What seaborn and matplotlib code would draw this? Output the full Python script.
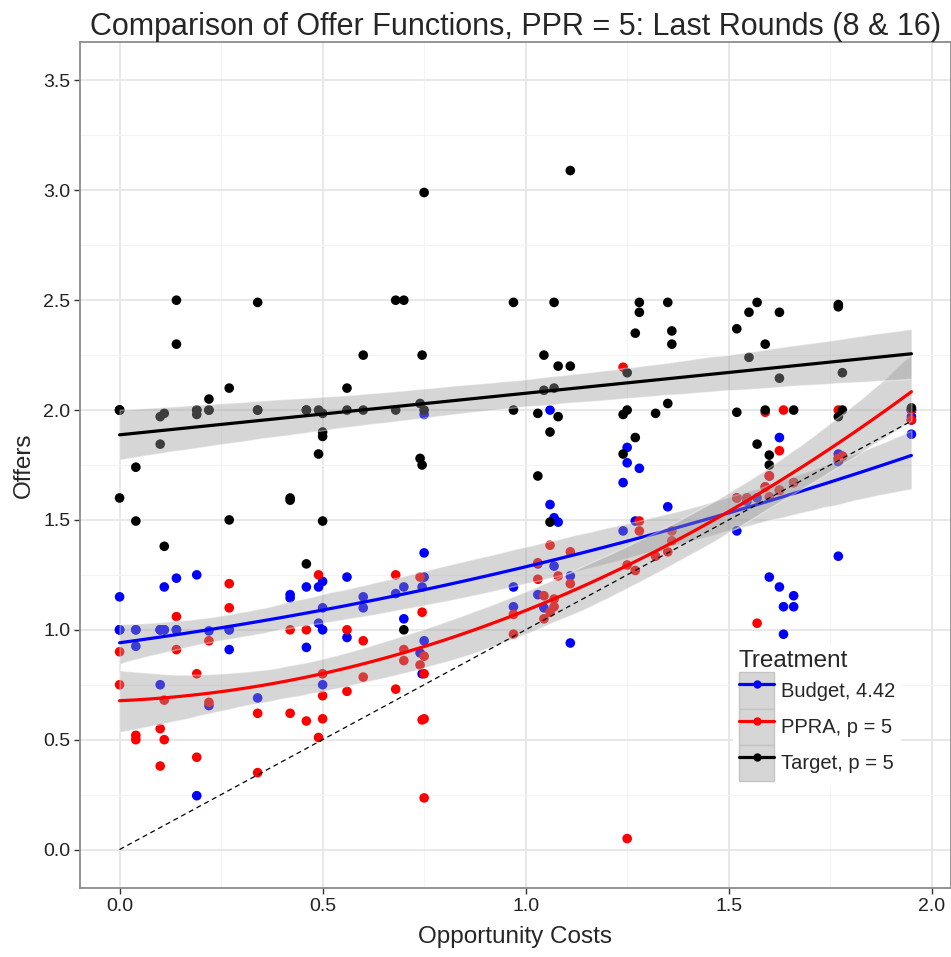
import numpy as np
import pandas as pd
import matplotlib
matplotlib.use("Agg")
import matplotlib.pyplot as plt
import seaborn as sns
from matplotlib.lines import Line2D
from matplotlib.patches import Patch
from matplotlib.legend_handler import HandlerTuple
from matplotlib.ticker import MultipleLocator, FormatStrFormatter

# treatments and colours
treatments = ["Budget, 4.42", "PPRA, p = 5", "Target, p = 5"]
colors = ["#0000ff", "#ff0000", "#000000"]
fit_order = [2, 2, 1]

# Budget, 4.42 (last block: stacked / hidden points)
budget_cost = [0.00, 0.00, 0.04, 0.04, 0.10, 0.11, 0.11, 0.14, 0.14, 0.19, 0.10, 0.22, 0.22, 0.19,
               0.27, 0.27, 0.34, 0.42, 0.42, 0.46, 0.46, 0.49, 0.50, 0.50, 0.49, 0.50, 0.50, 0.56,
               0.56, 0.60, 0.60, 0.68, 0.70, 0.70, 0.75, 0.75, 0.745, 0.75, 0.74, 0.745, 0.75,
               1.06, 1.25, 1.25, 1.28, 1.24, 1.625, 1.57, 1.545, 1.35, 1.06, 1.07, 1.08, 1.52, 1.24,
               1.27, 1.03, 1.07, 1.11, 0.97, 0.97, 1.03, 1.045, 1.11, 1.77, 1.60, 1.625, 1.66, 1.635,
               1.66, 1.635, 1.77, 1.77, 1.95,
               1.52, 1.545, 1.59, 1.60, 1.625, 1.66, 1.78, 1.95, 1.95, 1.95, 1.95, 1.77,
               0.00, 0.04, 0.10, 0.14, 0.27, 0.00, 0.10, 0.11]
budget_offer = [1.15, 1.00, 1.00, 0.925, 1.00, 1.00, 1.195, 1.235, 1.00, 1.25, 0.75, 0.995, 0.655, 0.245,
                1.00, 0.91, 0.69, 1.16, 1.145, 1.195, 0.92, 1.195, 1.22, 1.10, 1.03, 1.00, 0.75, 1.24,
                0.965, 1.15, 1.10, 1.165, 1.195, 1.05, 1.35, 1.24, 1.195, 0.95, 0.895, 0.80, 1.98,
                2.00, 1.83, 1.76, 1.735, 1.67, 1.875, 1.60, 1.585, 1.56, 1.57, 1.51, 1.49, 1.45, 1.45,
                1.495, 1.30, 1.29, 1.245, 1.195, 1.105, 1.16, 1.10, 0.94, 1.335, 1.24, 1.195, 1.155, 1.105,
                1.105, 0.98, 1.80, 1.765, 1.89,
                1.60, 1.60, 1.65, 1.70, 1.635, 1.67, 1.79, 2.00, 1.955, 1.97, 2.00, 1.78,
                1.00, 1.00, 1.00, 1.00, 1.00, 1.00, 1.00, 1.00]

# PPRA, p = 5
ppra_cost = [0.00, 0.00, 0.04, 0.04, 0.10, 0.11, 0.10, 0.14, 0.14, 0.11, 0.19, 0.19, 0.22, 0.22,
             0.27, 0.27, 0.34, 0.34, 0.42, 0.42, 0.46, 0.46, 0.49, 0.49, 0.50, 0.50, 0.50, 0.56,
             0.56, 0.60, 0.60, 0.68, 0.68, 0.70, 0.70, 0.74, 0.745, 0.74, 0.75, 0.75, 0.745, 0.75,
             0.75,
             1.24, 1.59, 1.635, 1.77, 1.95, 1.95, 1.625, 1.60, 1.59, 1.66, 1.52, 1.545, 1.60, 1.625,
             1.77, 1.78, 1.28, 1.28, 1.36, 1.36, 1.06, 1.11, 1.03, 1.03, 1.08, 1.11, 1.045, 1.07,
             1.07, 1.06, 1.045, 0.97, 0.97, 1.25, 1.27, 1.32, 1.35, 1.25, 1.57]
ppra_offer = [0.90, 0.75, 0.52, 0.50, 0.55, 0.50, 0.38, 1.06, 0.91, 0.68, 0.80, 0.42, 0.95, 0.67,
              1.21, 1.10, 0.62, 0.35, 1.00, 0.62, 1.00, 0.585, 1.25, 0.51, 0.80, 0.70, 0.595, 1.00,
              0.72, 0.95, 0.785, 1.25, 0.73, 0.91, 0.86, 1.24, 1.08, 0.84, 0.80, 0.88, 0.59, 0.595,
              0.235,
              2.195, 1.99, 2.00, 2.00, 2.00, 1.955, 1.815, 1.70, 1.65, 1.67, 1.60, 1.60, 1.605, 1.635,
              1.78, 1.79, 1.495, 1.45, 1.45, 1.405, 1.385, 1.355, 1.305, 1.23, 1.245, 1.21, 1.155, 1.14,
              1.105, 1.08, 1.05, 1.07, 0.98, 1.295, 1.27, 1.335, 1.355, 0.05, 1.03]

# Target, p = 5 (last block: stacked 2.0 offers)
target_cost = [0.75, 0.14, 0.34, 0.68, 0.70, 0.14, 0.60, 0.745, 0.27, 0.56, 0.22, 0.00, 0.10, 0.11,
               0.19, 0.19, 0.22, 0.34, 0.46, 0.49, 0.50, 0.50, 0.50, 0.56, 0.60, 0.68, 0.74, 0.75,
               0.10, 0.49, 0.74, 0.745, 0.04, 0.00, 0.42, 0.42, 0.04, 0.27, 0.50, 0.11, 0.46, 0.70,
               1.11, 0.97, 1.07, 1.28, 1.28, 1.35, 1.27, 1.36, 1.36, 1.57, 1.55, 1.625, 1.52, 1.59,
               1.55, 1.77, 1.77, 1.045, 1.08, 1.11, 1.045, 1.07, 0.97, 1.03, 1.08, 1.06, 1.03, 1.06,
               1.25, 1.24, 1.25, 1.32, 1.35, 1.27, 1.24, 1.52, 1.59, 1.66, 1.625, 1.57, 1.60, 1.60,
               1.78, 1.78, 1.77, 1.95,
               0.00, 0.00, 0.19, 0.22, 0.34, 0.46]
target_offer = [2.99, 2.50, 2.49, 2.50, 2.50, 2.30, 2.25, 2.25, 2.10, 2.10, 2.05, 2.00, 1.97, 1.985,
                2.00, 1.98, 2.00, 2.00, 2.00, 2.00, 1.985, 1.90, 1.88, 2.00, 2.00, 2.00, 2.03, 2.00,
                1.845, 1.80, 1.78, 1.75, 1.74, 1.60, 1.60, 1.59, 1.495, 1.50, 1.495, 1.38, 1.30, 1.00,
                3.09, 2.49, 2.49, 2.49, 2.445, 2.49, 2.35, 2.36, 2.30, 2.49, 2.445, 2.445, 2.37, 2.30,
                2.24, 2.48, 2.47, 2.25, 2.20, 2.20, 2.09, 2.10, 2.00, 1.985, 1.97, 1.90, 1.70, 1.49,
                2.17, 1.98, 2.00, 1.985, 2.03, 1.875, 1.80, 1.99, 2.00, 2.00, 2.145, 1.845, 1.795, 1.75,
                2.17, 2.00, 1.97, 2.01,
                2.00, 2.00, 2.00, 2.00, 2.00, 2.00]

df = pd.concat([
    pd.DataFrame({"cost": budget_cost, "offer": budget_offer, "treatment": treatments[0]}),
    pd.DataFrame({"cost": ppra_cost, "offer": ppra_offer, "treatment": treatments[1]}),
    pd.DataFrame({"cost": target_cost, "offer": target_offer, "treatment": treatments[2]}),
], ignore_index=True)

sns.set_theme(style="whitegrid")
plt.rcParams["font.family"] = ["Liberation Sans", "DejaVu Sans"]

fig = plt.figure(figsize=(9.51, 9.57), dpi=100)
ax = fig.add_axes([80 / 951, 69 / 957, 871 / 951, 846 / 957])

# points first, smoothers on top (like ggplot)
sns.scatterplot(data=df, x="cost", y="offer", hue="treatment", hue_order=treatments,
                palette=colors, s=48, linewidth=0, legend=False, ax=ax, zorder=2)

for i, (t, c) in enumerate(zip(treatments, colors)):
    sub = df[df["treatment"] == t]
    n_lines = len(ax.lines)
    n_coll = len(ax.collections)
    sns.regplot(data=sub, x="cost", y="offer", order=fit_order[i], scatter=False, ci=95, seed=3,
                color=c, line_kws={"lw": 2.3}, ax=ax)
    for coll in ax.collections[n_coll:]:
        coll.set_facecolor("#999999")
        coll.set_alpha(0.4)
        coll.set_zorder(3 + 0.02 * i)
    for ln in ax.lines[n_lines:]:
        ln.set_zorder(3.01 + 0.02 * i)

# 45 degree reference
xs = [df["cost"].min(), df["cost"].max()]
ax.plot(xs, xs, ls=(0, (4, 3)), color="black", lw=0.9, zorder=5)

ax.set_xlim(-0.0975, 2.0475)
ax.set_ylim(-0.175, 3.675)
ax.xaxis.set_major_locator(MultipleLocator(0.5))
ax.yaxis.set_major_locator(MultipleLocator(0.5))
ax.xaxis.set_minor_locator(MultipleLocator(0.25))
ax.yaxis.set_minor_locator(MultipleLocator(0.25))
ax.xaxis.set_major_formatter(FormatStrFormatter("%.1f"))
ax.yaxis.set_major_formatter(FormatStrFormatter("%.1f"))
ax.grid(which="major", color="#e6e6e6", lw=1.3)
ax.grid(which="minor", color="#f4f4f4", lw=0.8)
ax.set_axisbelow(True)
ax.tick_params(which="major", bottom=True, left=True, length=4, width=1, color="#333333",
               labelsize=14, labelcolor="#222222", pad=3)
ax.tick_params(which="minor", length=0)
for sp in ax.spines.values():
    sp.set_color("#8c8c8c")
    sp.set_linewidth(1.3)

ax.set_title("Comparison of Offer Functions, PPR = 5: Last Rounds (8 & 16)", fontsize=22, pad=5)
ax.set_xlabel("Opportunity Costs", fontsize=17.5, labelpad=8)
ax.set_ylabel("Offers", fontsize=17.5, labelpad=6)

handles = [(Patch(facecolor="#d6d6d6", edgecolor="#c4c4c4"),
            Line2D([], [], color=c, lw=2.3, marker="o", ms=5)) for c in colors]
leg = ax.legend(handles, treatments, title="Treatment", loc="upper left",
                bbox_to_anchor=(0.738, 0.30), handler_map={tuple: HandlerTuple(ndivide=1, pad=0)},
                fontsize=14.5, title_fontsize=17.5, frameon=True, facecolor="white",
                edgecolor="none", framealpha=1, handlelength=1.75, handleheight=2.4,
                labelspacing=0.0, handletextpad=0.35, borderpad=0.3, alignment="left")

fig.savefig("out.png", dpi=100)
